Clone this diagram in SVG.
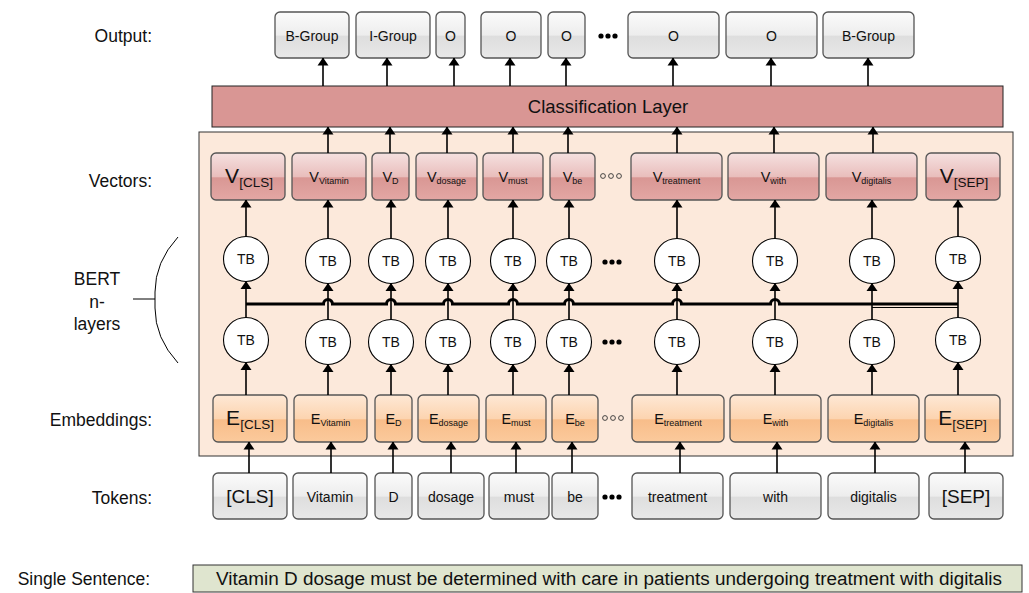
<svg xmlns="http://www.w3.org/2000/svg" width="1029" height="593" viewBox="0 0 1029 593">
<defs>
<linearGradient id="gGray" x1="0" y1="0" x2="0" y2="1">
<stop offset="0" stop-color="#fbfbfb"/><stop offset="0.5" stop-color="#ededed"/><stop offset="0.53" stop-color="#dedede"/><stop offset="1" stop-color="#e8e8e8"/>
</linearGradient>
<linearGradient id="gRed" x1="0" y1="0" x2="0" y2="1">
<stop offset="0" stop-color="#f5e1e0"/><stop offset="0.5" stop-color="#e9bebc"/><stop offset="0.53" stop-color="#d99794"/><stop offset="1" stop-color="#e3a7a4"/>
</linearGradient>
<linearGradient id="gOrange" x1="0" y1="0" x2="0" y2="1">
<stop offset="0" stop-color="#fee8d5"/><stop offset="0.5" stop-color="#fcd4b0"/><stop offset="0.53" stop-color="#f8bd8a"/><stop offset="1" stop-color="#fbca9c"/>
</linearGradient>
<marker id="ah" markerUnits="userSpaceOnUse" markerWidth="8" markerHeight="12" viewBox="0 0 8 12" refX="7.5" refY="6" orient="auto">
<path d="M0,0.5 L8,6 L0,11.5 Z" fill="#000"/>
</marker>
<style>
.lbl{font-family:"Liberation Sans",Arial,sans-serif;font-size:17.5px;fill:#111;}
.t{font-family:"Liberation Sans",Arial,sans-serif;fill:#111;text-anchor:middle;}
.gray{fill:url(#gGray);stroke:#555;stroke-width:1.3;}
.red{fill:url(#gRed);stroke:#555;stroke-width:1.3;}
.orange{fill:url(#gOrange);stroke:#555;stroke-width:1.3;}
.tb{fill:#fff;stroke:#000;stroke-width:1.1;}
.c{stroke:#000;stroke-width:1.6;fill:none;marker-end:url(#ah);}
.dot{fill:#000;}
.odot{fill:none;stroke:#333;stroke-width:0.9;}
</style>
</defs>
<rect width="1029" height="593" fill="#fff"/>

<!-- left labels -->
<g id="labels">
<text class="lbl" x="152" y="42" text-anchor="end">Output:</text>
<text class="lbl" x="152" y="187" text-anchor="end">Vectors:</text>
<text class="lbl" x="97" y="285" text-anchor="middle">BERT</text>
<text class="lbl" x="97" y="308" text-anchor="middle">n-</text>
<text class="lbl" x="97" y="330" text-anchor="middle">layers</text>
<text class="lbl" x="152" y="426" text-anchor="end">Embeddings:</text>
<text class="lbl" x="152" y="504" text-anchor="end">Tokens:</text>
<text class="lbl" x="150" y="585" text-anchor="end">Single Sentence:</text>
<path d="M178,237 Q155,262 155,292 L155,308 Q155,338 178,363" fill="none" stroke="#000" stroke-width="1"/>
<line x1="133" y1="299" x2="155" y2="299" stroke="#000" stroke-width="1"/>
</g>

<!-- BERT container -->
<g id="bert-container">
<rect x="199" y="132" width="814" height="324" fill="#fce9db" stroke="#333" stroke-width="1"/>
</g>

<!-- Classification layer -->
<g id="classification">
<rect x="212" y="86" width="791" height="41" fill="#d99694" stroke="#222" stroke-width="1"/>
<text class="t" x="608" y="113" font-size="18.5">Classification Layer</text>
</g>

<!-- Output row -->
<g id="outputs">
<g id="out1"><rect class="gray" x="275" y="12" width="74" height="46" rx="5"/><text class="t" x="312" y="41" font-size="14">B-Group</text></g>
<g id="out2"><rect class="gray" x="356" y="12" width="74" height="46" rx="5"/><text class="t" x="393" y="41" font-size="14">I-Group</text></g>
<g id="out3"><rect class="gray" x="436" y="12" width="29" height="46" rx="5"/><text class="t" x="450.5" y="41" font-size="14">O</text></g>
<g id="out4"><rect class="gray" x="481" y="12" width="60" height="46" rx="5"/><text class="t" x="511" y="41" font-size="14">O</text></g>
<g id="out5"><rect class="gray" x="548" y="12" width="37" height="46" rx="5"/><text class="t" x="566.5" y="41" font-size="14">O</text></g>
<g id="out6"><rect class="gray" x="628" y="12" width="91" height="46" rx="5"/><text class="t" x="673.5" y="41" font-size="14">O</text></g>
<g id="out7"><rect class="gray" x="726" y="12" width="91" height="46" rx="5"/><text class="t" x="771.5" y="41" font-size="14">O</text></g>
<g id="out8"><rect class="gray" x="823" y="12" width="91" height="46" rx="5"/><text class="t" x="868.5" y="41" font-size="14">B-Group</text></g>
<circle class="dot" cx="601" cy="36" r="2.6"/><circle class="dot" cx="608" cy="36" r="2.6"/><circle class="dot" cx="615" cy="36" r="2.6"/>
</g>

<!-- Vectors row -->
<g id="vectors">
<g id="v-cls"><rect class="red" x="211" y="153" width="74" height="47" rx="5"/><text class="t" x="249" y="183"><tspan font-size="21">V</tspan><tspan font-size="13.5" dy="4">[CLS]</tspan></text></g>
<g id="v-vitamin"><rect class="red" x="292" y="153" width="74" height="47" rx="5"/><text class="t" x="329" y="182"><tspan font-size="14.5">V</tspan><tspan font-size="9" dy="2">Vitamin</tspan></text></g>
<g id="v-d"><rect class="red" x="372" y="153" width="37" height="47" rx="5"/><text class="t" x="390.5" y="182"><tspan font-size="14.5">V</tspan><tspan font-size="9" dy="2">D</tspan></text></g>
<g id="v-dosage"><rect class="red" x="416" y="153" width="61" height="47" rx="5"/><text class="t" x="446.5" y="182"><tspan font-size="14.5">V</tspan><tspan font-size="9" dy="2">dosage</tspan></text></g>
<g id="v-must"><rect class="red" x="483" y="153" width="60" height="47" rx="5"/><text class="t" x="513" y="182"><tspan font-size="14.5">V</tspan><tspan font-size="9" dy="2">must</tspan></text></g>
<g id="v-be"><rect class="red" x="550" y="153" width="45" height="47" rx="5"/><text class="t" x="572.5" y="182"><tspan font-size="14.5">V</tspan><tspan font-size="9" dy="2">be</tspan></text></g>
<g id="v-treatment"><rect class="red" x="631" y="153" width="91" height="47" rx="5"/><text class="t" x="676.5" y="182"><tspan font-size="14.5">V</tspan><tspan font-size="9" dy="2">treatment</tspan></text></g>
<g id="v-with"><rect class="red" x="728" y="153" width="91" height="47" rx="5"/><text class="t" x="773.5" y="182"><tspan font-size="14.5">V</tspan><tspan font-size="9" dy="2">with</tspan></text></g>
<g id="v-digitalis"><rect class="red" x="826" y="153" width="91" height="47" rx="5"/><text class="t" x="871.5" y="182"><tspan font-size="14.5">V</tspan><tspan font-size="9" dy="2">digitalis</tspan></text></g>
<g id="v-sep"><rect class="red" x="926" y="153" width="74" height="47" rx="5"/><text class="t" x="964" y="183"><tspan font-size="21">V</tspan><tspan font-size="13.5" dy="4">[SEP]</tspan></text></g>
<circle class="odot" cx="603" cy="176" r="2.4"/><circle class="odot" cx="611" cy="176" r="2.4"/><circle class="odot" cx="619" cy="176" r="2.4"/>
</g>

<!-- Transformer blocks upper -->
<g id="tb-upper">
<g id="tbu1"><circle class="tb" cx="246" cy="259" r="22.5"/><text class="t" x="246" y="264" font-size="14">TB</text></g>
<g id="tbu2"><circle class="tb" cx="328" cy="261" r="22.5"/><text class="t" x="328" y="266" font-size="14">TB</text></g>
<g id="tbu3"><circle class="tb" cx="391" cy="261" r="22.5"/><text class="t" x="391" y="266" font-size="14">TB</text></g>
<g id="tbu4"><circle class="tb" cx="448" cy="261" r="22.5"/><text class="t" x="448" y="266" font-size="14">TB</text></g>
<g id="tbu5"><circle class="tb" cx="513" cy="261" r="22.5"/><text class="t" x="513" y="266" font-size="14">TB</text></g>
<g id="tbu6"><circle class="tb" cx="569" cy="261" r="22.5"/><text class="t" x="569" y="266" font-size="14">TB</text></g>
<g id="tbu7"><circle class="tb" cx="677" cy="261" r="22.5"/><text class="t" x="677" y="266" font-size="14">TB</text></g>
<g id="tbu8"><circle class="tb" cx="775" cy="261" r="22.5"/><text class="t" x="775" y="266" font-size="14">TB</text></g>
<g id="tbu9"><circle class="tb" cx="872" cy="261" r="22.5"/><text class="t" x="872" y="266" font-size="14">TB</text></g>
<g id="tbu10"><circle class="tb" cx="958" cy="259" r="22.5"/><text class="t" x="958" y="264" font-size="14">TB</text></g>
<circle class="dot" cx="605" cy="262" r="2.6"/><circle class="dot" cx="612" cy="262" r="2.6"/><circle class="dot" cx="619" cy="262" r="2.6"/>
</g>

<!-- Transformer blocks lower -->
<g id="tb-lower">
<g id="tbl1"><circle class="tb" cx="246" cy="340" r="22.5"/><text class="t" x="246" y="345" font-size="14">TB</text></g>
<g id="tbl2"><circle class="tb" cx="328" cy="342" r="22.5"/><text class="t" x="328" y="347" font-size="14">TB</text></g>
<g id="tbl3"><circle class="tb" cx="391" cy="342" r="22.5"/><text class="t" x="391" y="347" font-size="14">TB</text></g>
<g id="tbl4"><circle class="tb" cx="448" cy="342" r="22.5"/><text class="t" x="448" y="347" font-size="14">TB</text></g>
<g id="tbl5"><circle class="tb" cx="513" cy="342" r="22.5"/><text class="t" x="513" y="347" font-size="14">TB</text></g>
<g id="tbl6"><circle class="tb" cx="569" cy="342" r="22.5"/><text class="t" x="569" y="347" font-size="14">TB</text></g>
<g id="tbl7"><circle class="tb" cx="677" cy="342" r="22.5"/><text class="t" x="677" y="347" font-size="14">TB</text></g>
<g id="tbl8"><circle class="tb" cx="775" cy="342" r="22.5"/><text class="t" x="775" y="347" font-size="14">TB</text></g>
<g id="tbl9"><circle class="tb" cx="872" cy="342" r="22.5"/><text class="t" x="872" y="347" font-size="14">TB</text></g>
<g id="tbl10"><circle class="tb" cx="958" cy="340" r="22.5"/><text class="t" x="958" y="345" font-size="14">TB</text></g>
<circle class="dot" cx="605" cy="342" r="2.6"/><circle class="dot" cx="612" cy="342" r="2.6"/><circle class="dot" cx="619" cy="342" r="2.6"/>
</g>

<!-- Embeddings row -->
<g id="embeddings">
<g id="e-cls"><rect class="orange" x="213" y="395" width="74" height="47" rx="5"/><text class="t" x="250" y="425"><tspan font-size="21">E</tspan><tspan font-size="13.5" dy="4">[CLS]</tspan></text></g>
<g id="e-vitamin"><rect class="orange" x="294" y="395" width="73" height="47" rx="5"/><text class="t" x="330.5" y="424"><tspan font-size="14.5">E</tspan><tspan font-size="9" dy="2">Vitamin</tspan></text></g>
<g id="e-d"><rect class="orange" x="375" y="395" width="37" height="47" rx="5"/><text class="t" x="393.5" y="424"><tspan font-size="14.5">E</tspan><tspan font-size="9" dy="2">D</tspan></text></g>
<g id="e-dosage"><rect class="orange" x="418" y="395" width="61" height="47" rx="5"/><text class="t" x="448.5" y="424"><tspan font-size="14.5">E</tspan><tspan font-size="9" dy="2">dosage</tspan></text></g>
<g id="e-must"><rect class="orange" x="486" y="395" width="60" height="47" rx="5"/><text class="t" x="516" y="424"><tspan font-size="14.5">E</tspan><tspan font-size="9" dy="2">must</tspan></text></g>
<g id="e-be"><rect class="orange" x="552" y="395" width="46" height="47" rx="5"/><text class="t" x="575" y="424"><tspan font-size="14.5">E</tspan><tspan font-size="9" dy="2">be</tspan></text></g>
<g id="e-treatment"><rect class="orange" x="632" y="395" width="92" height="47" rx="5"/><text class="t" x="678" y="424"><tspan font-size="14.5">E</tspan><tspan font-size="9" dy="2">treatment</tspan></text></g>
<g id="e-with"><rect class="orange" x="730" y="395" width="91" height="47" rx="5"/><text class="t" x="775.5" y="424"><tspan font-size="14.5">E</tspan><tspan font-size="9" dy="2">with</tspan></text></g>
<g id="e-digitalis"><rect class="orange" x="828" y="395" width="91" height="47" rx="5"/><text class="t" x="873.5" y="424"><tspan font-size="14.5">E</tspan><tspan font-size="9" dy="2">digitalis</tspan></text></g>
<g id="e-sep"><rect class="orange" x="925" y="395" width="75" height="47" rx="5"/><text class="t" x="962.5" y="425"><tspan font-size="21">E</tspan><tspan font-size="13.5" dy="4">[SEP]</tspan></text></g>
<circle class="odot" cx="605" cy="418" r="2.4"/><circle class="odot" cx="613" cy="418" r="2.4"/><circle class="odot" cx="621" cy="418" r="2.4"/>
</g>

<!-- Tokens row -->
<g id="tokens">
<g id="tok-cls"><rect class="gray" x="213" y="473" width="74" height="46" rx="5"/><text class="t" x="250" y="503" font-size="19">[CLS]</text></g>
<g id="tok-vitamin"><rect class="gray" x="293" y="473" width="74" height="46" rx="5"/><text class="t" x="330" y="502" font-size="14">Vitamin</text></g>
<g id="tok-d"><rect class="gray" x="375" y="473" width="37" height="46" rx="5"/><text class="t" x="393.5" y="502" font-size="14">D</text></g>
<g id="tok-dosage"><rect class="gray" x="418" y="473" width="66" height="46" rx="5"/><text class="t" x="451" y="502" font-size="14">dosage</text></g>
<g id="tok-must"><rect class="gray" x="489" y="473" width="60" height="46" rx="5"/><text class="t" x="519" y="502" font-size="14">must</text></g>
<g id="tok-be"><rect class="gray" x="552" y="473" width="46" height="46" rx="5"/><text class="t" x="575" y="502" font-size="14">be</text></g>
<g id="tok-treatment"><rect class="gray" x="632" y="473" width="91" height="46" rx="5"/><text class="t" x="677.5" y="502" font-size="14">treatment</text></g>
<g id="tok-with"><rect class="gray" x="730" y="473" width="91" height="46" rx="5"/><text class="t" x="775.5" y="502" font-size="14">with</text></g>
<g id="tok-digitalis"><rect class="gray" x="828" y="473" width="91" height="46" rx="5"/><text class="t" x="873.5" y="502" font-size="14">digitalis</text></g>
<g id="tok-sep"><rect class="gray" x="929" y="473" width="74" height="46" rx="5"/><text class="t" x="966" y="503" font-size="19">[SEP]</text></g>
<circle class="dot" cx="605" cy="497" r="2.6"/><circle class="dot" cx="612" cy="497" r="2.6"/><circle class="dot" cx="619" cy="497" r="2.6"/>
</g>

<!-- Sentence -->
<g id="sentence">
<rect x="193" y="565" width="829" height="27" fill="#dfe5cf" stroke="#333" stroke-width="1"/>
<text class="t" x="609" y="585" font-size="18" textLength="786" lengthAdjust="spacingAndGlyphs">Vitamin D dosage must be determined with care in patients undergoing treatment with digitalis</text>
</g>

<!-- Connectors -->
<g id="connectors">
<line class="c" x1="249" y1="473" x2="249" y2="442"/>
<line class="c" x1="331" y1="473" x2="331" y2="442"/>
<line class="c" x1="393" y1="473" x2="393" y2="442"/>
<line class="c" x1="451" y1="473" x2="451" y2="442"/>
<line class="c" x1="516" y1="473" x2="516" y2="442"/>
<line class="c" x1="572" y1="473" x2="572" y2="442"/>
<line class="c" x1="680" y1="473" x2="680" y2="442"/>
<line class="c" x1="777" y1="473" x2="777" y2="442"/>
<line class="c" x1="875" y1="473" x2="875" y2="442"/>
<line class="c" x1="965" y1="473" x2="965" y2="442"/>
<line class="c" x1="246" y1="395" x2="246" y2="362.5"/>
<line class="c" x1="328" y1="395" x2="328" y2="364.5"/>
<line class="c" x1="391" y1="395" x2="391" y2="364.5"/>
<line class="c" x1="448" y1="395" x2="448" y2="364.5"/>
<line class="c" x1="513" y1="395" x2="513" y2="364.5"/>
<line class="c" x1="569" y1="395" x2="569" y2="364.5"/>
<line class="c" x1="677" y1="395" x2="677" y2="364.5"/>
<line class="c" x1="775" y1="395" x2="775" y2="364.5"/>
<line class="c" x1="872" y1="395" x2="872" y2="364.5"/>
<line class="c" x1="958" y1="395" x2="958" y2="362.5"/>
<line class="c" x1="246" y1="317.5" x2="246" y2="281.5"/>
<line class="c" x1="328" y1="319.5" x2="328" y2="283.5"/>
<line class="c" x1="391" y1="319.5" x2="391" y2="283.5"/>
<line class="c" x1="448" y1="319.5" x2="448" y2="283.5"/>
<line class="c" x1="513" y1="319.5" x2="513" y2="283.5"/>
<line class="c" x1="569" y1="319.5" x2="569" y2="283.5"/>
<line class="c" x1="677" y1="319.5" x2="677" y2="283.5"/>
<line class="c" x1="775" y1="319.5" x2="775" y2="283.5"/>
<line class="c" x1="872" y1="319.5" x2="872" y2="283.5"/>
<line class="c" x1="958" y1="317.5" x2="958" y2="281.5"/>
<path d="M246,304 H323.5 a4.5,4.5 0 0 1 9,0 H386.5 a4.5,4.5 0 0 1 9,0 H443.5 a4.5,4.5 0 0 1 9,0 H508.5 a4.5,4.5 0 0 1 9,0 H564.5 a4.5,4.5 0 0 1 9,0 H672.5 a4.5,4.5 0 0 1 9,0 H770.5 a4.5,4.5 0 0 1 9,0 H958" fill="none" stroke="#000" stroke-width="3"/>
<line x1="872" y1="307.5" x2="958" y2="307.5" stroke="#000" stroke-width="1.2"/>
<line class="c" x1="246" y1="236.5" x2="246" y2="200"/>
<line class="c" x1="328" y1="238.5" x2="328" y2="200"/>
<line class="c" x1="391" y1="238.5" x2="391" y2="200"/>
<line class="c" x1="448" y1="238.5" x2="448" y2="200"/>
<line class="c" x1="513" y1="238.5" x2="513" y2="200"/>
<line class="c" x1="569" y1="238.5" x2="569" y2="200"/>
<line class="c" x1="677" y1="238.5" x2="677" y2="200"/>
<line class="c" x1="775" y1="238.5" x2="775" y2="200"/>
<line class="c" x1="872" y1="238.5" x2="872" y2="200"/>
<line class="c" x1="958" y1="236.5" x2="958" y2="200"/>
<line class="c" x1="328" y1="153" x2="328" y2="127"/>
<line class="c" x1="390" y1="153" x2="390" y2="127"/>
<line class="c" x1="447" y1="153" x2="447" y2="127"/>
<line class="c" x1="513" y1="153" x2="513" y2="127"/>
<line class="c" x1="568" y1="153" x2="568" y2="127"/>
<line class="c" x1="677" y1="153" x2="677" y2="127"/>
<line class="c" x1="774" y1="153" x2="774" y2="127"/>
<line class="c" x1="873" y1="153" x2="873" y2="127"/>
<line class="c" x1="323" y1="86" x2="323" y2="58"/>
<line class="c" x1="387" y1="86" x2="387" y2="58"/>
<line class="c" x1="454" y1="86" x2="454" y2="58"/>
<line class="c" x1="510" y1="86" x2="510" y2="58"/>
<line class="c" x1="566" y1="86" x2="566" y2="58"/>
<line class="c" x1="673" y1="86" x2="673" y2="58"/>
<line class="c" x1="771" y1="86" x2="771" y2="58"/>
<line class="c" x1="868" y1="86" x2="868" y2="58"/>
</g>
</svg>
